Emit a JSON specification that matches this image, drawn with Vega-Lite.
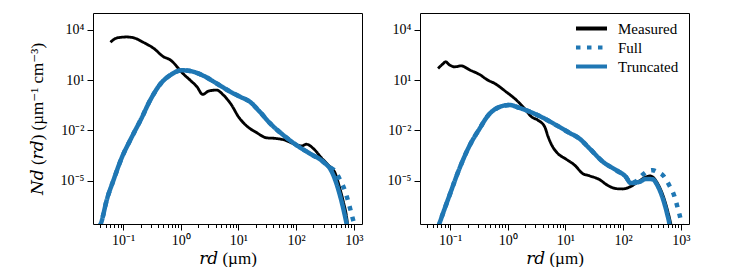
{
  "$schema": "https://vega.github.io/schema/vega-lite/v6.json",
  "padding": {"left": 27, "top": 12, "right": 5, "bottom": 0},
  "spacing": 22,
  "datasets": {
    "pts": [
      {"panel": "left", "series": "Measured", "r": 0.0603, "N": 1778},
      {"panel": "left", "series": "Measured", "r": 0.0708, "N": 2818},
      {"panel": "left", "series": "Measured", "r": 0.0832, "N": 3388},
      {"panel": "left", "series": "Measured", "r": 0.115, "N": 3715},
      {"panel": "left", "series": "Measured", "r": 0.162, "N": 3090},
      {"panel": "left", "series": "Measured", "r": 0.224, "N": 1778},
      {"panel": "left", "series": "Measured", "r": 0.339, "N": 776},
      {"panel": "left", "series": "Measured", "r": 0.501, "N": 245},
      {"panel": "left", "series": "Measured", "r": 0.661, "N": 158},
      {"panel": "left", "series": "Measured", "r": 0.912, "N": 49.0},
      {"panel": "left", "series": "Measured", "r": 1.047, "N": 28.2},
      {"panel": "left", "series": "Measured", "r": 1.445, "N": 10},
      {"panel": "left", "series": "Measured", "r": 1.905, "N": 3.98},
      {"panel": "left", "series": "Measured", "r": 2.399, "N": 1.38},
      {"panel": "left", "series": "Measured", "r": 3.02, "N": 2.188},
      {"panel": "left", "series": "Measured", "r": 4.169, "N": 2.512},
      {"panel": "left", "series": "Measured", "r": 5.495, "N": 1.259},
      {"panel": "left", "series": "Measured", "r": 7.586, "N": 0.324},
      {"panel": "left", "series": "Measured", "r": 10, "N": 0.0646},
      {"panel": "left", "series": "Measured", "r": 13.8, "N": 0.0186},
      {"panel": "left", "series": "Measured", "r": 20.9, "N": 0.00708},
      {"panel": "left", "series": "Measured", "r": 30.9, "N": 0.00355},
      {"panel": "left", "series": "Measured", "r": 45.7, "N": 0.00324},
      {"panel": "left", "series": "Measured", "r": 64.6, "N": 0.00257},
      {"panel": "left", "series": "Measured", "r": 89.1, "N": 0.00162},
      {"panel": "left", "series": "Measured", "r": 126, "N": 0.00117},
      {"panel": "left", "series": "Measured", "r": 151, "N": 0.00148},
      {"panel": "left", "series": "Measured", "r": 200, "N": 0.000813},
      {"panel": "left", "series": "Measured", "r": 275, "N": 0.000229},
      {"panel": "left", "series": "Measured", "r": 363, "N": 8.32e-5},
      {"panel": "left", "series": "Measured", "r": 479, "N": 2.63e-5},
      {"panel": "left", "series": "Measured", "r": 575, "N": 3.31e-6},
      {"panel": "left", "series": "Measured", "r": 661, "N": 5.37e-7},
      {"panel": "left", "series": "Measured", "r": 759, "N": 5.37e-8},
      {"panel": "left", "series": "Measured", "r": 794, "N": 1.58e-8},

      {"panel": "left", "series": "Truncated", "r": 0.0389, "N": 1.58e-8},
      {"panel": "left", "series": "Truncated", "r": 0.0417, "N": 3.16e-8},
      {"panel": "left", "series": "Truncated", "r": 0.0525, "N": 7.94e-7},
      {"panel": "left", "series": "Truncated", "r": 0.0676, "N": 1e-5},
      {"panel": "left", "series": "Truncated", "r": 0.0955, "N": 2.51e-4},
      {"panel": "left", "series": "Truncated", "r": 0.132, "N": 2.51e-3},
      {"panel": "left", "series": "Truncated", "r": 0.162, "N": 0.01},
      {"panel": "left", "series": "Truncated", "r": 0.2, "N": 0.0398},
      {"panel": "left", "series": "Truncated", "r": 0.295, "N": 0.631},
      {"panel": "left", "series": "Truncated", "r": 0.437, "N": 5.5},
      {"panel": "left", "series": "Truncated", "r": 0.661, "N": 19.95},
      {"panel": "left", "series": "Truncated", "r": 1.047, "N": 38.0},
      {"panel": "left", "series": "Truncated", "r": 1.445, "N": 34.7},
      {"panel": "left", "series": "Truncated", "r": 2.455, "N": 18.2},
      {"panel": "left", "series": "Truncated", "r": 4.169, "N": 6.31},
      {"panel": "left", "series": "Truncated", "r": 7.244, "N": 1.995},
      {"panel": "left", "series": "Truncated", "r": 10.7, "N": 1},
      {"panel": "left", "series": "Truncated", "r": 15.85, "N": 0.501},
      {"panel": "left", "series": "Truncated", "r": 23.4, "N": 0.129},
      {"panel": "left", "series": "Truncated", "r": 35.5, "N": 0.0257},
      {"panel": "left", "series": "Truncated", "r": 60.3, "N": 0.00513},
      {"panel": "left", "series": "Truncated", "r": 102, "N": 0.00129},
      {"panel": "left", "series": "Truncated", "r": 174, "N": 0.000407},
      {"panel": "left", "series": "Truncated", "r": 295, "N": 0.000132},
      {"panel": "left", "series": "Truncated", "r": 417, "N": 3.31e-5},
      {"panel": "left", "series": "Truncated", "r": 501, "N": 6.61e-6},
      {"panel": "left", "series": "Truncated", "r": 617, "N": 5.37e-7},
      {"panel": "left", "series": "Truncated", "r": 741, "N": 3.39e-8},
      {"panel": "left", "series": "Truncated", "r": 776, "N": 1.58e-8},

      {"panel": "left", "series": "Full", "r": 0.0389, "N": 1.58e-8},
      {"panel": "left", "series": "Full", "r": 0.0417, "N": 3.16e-8},
      {"panel": "left", "series": "Full", "r": 0.0525, "N": 7.94e-7},
      {"panel": "left", "series": "Full", "r": 0.0676, "N": 1e-5},
      {"panel": "left", "series": "Full", "r": 0.0955, "N": 2.51e-4},
      {"panel": "left", "series": "Full", "r": 0.132, "N": 2.51e-3},
      {"panel": "left", "series": "Full", "r": 0.162, "N": 0.01},
      {"panel": "left", "series": "Full", "r": 0.2, "N": 0.0398},
      {"panel": "left", "series": "Full", "r": 0.295, "N": 0.631},
      {"panel": "left", "series": "Full", "r": 0.437, "N": 5.5},
      {"panel": "left", "series": "Full", "r": 0.661, "N": 19.95},
      {"panel": "left", "series": "Full", "r": 1.047, "N": 38.0},
      {"panel": "left", "series": "Full", "r": 1.445, "N": 34.7},
      {"panel": "left", "series": "Full", "r": 2.455, "N": 18.2},
      {"panel": "left", "series": "Full", "r": 4.169, "N": 6.31},
      {"panel": "left", "series": "Full", "r": 7.244, "N": 1.995},
      {"panel": "left", "series": "Full", "r": 10.7, "N": 1},
      {"panel": "left", "series": "Full", "r": 15.85, "N": 0.501},
      {"panel": "left", "series": "Full", "r": 23.4, "N": 0.129},
      {"panel": "left", "series": "Full", "r": 35.5, "N": 0.0257},
      {"panel": "left", "series": "Full", "r": 60.3, "N": 0.00513},
      {"panel": "left", "series": "Full", "r": 102, "N": 0.00129},
      {"panel": "left", "series": "Full", "r": 174, "N": 0.000407},
      {"panel": "left", "series": "Full", "r": 295, "N": 0.000132},
      {"panel": "left", "series": "Full", "r": 363, "N": 7.08e-5},
      {"panel": "left", "series": "Full", "r": 457, "N": 4.17e-5},
      {"panel": "left", "series": "Full", "r": 575, "N": 1.15e-5},
      {"panel": "left", "series": "Full", "r": 708, "N": 2.34e-6},
      {"panel": "left", "series": "Full", "r": 813, "N": 4.79e-7},
      {"panel": "left", "series": "Full", "r": 912, "N": 1.07e-7},
      {"panel": "left", "series": "Full", "r": 1000, "N": 3.16e-8},
      {"panel": "left", "series": "Full", "r": 1047, "N": 1.58e-8},

      {"panel": "right", "series": "Measured", "r": 0.0617, "N": 49.0},
      {"panel": "right", "series": "Measured", "r": 0.0741, "N": 89.1},
      {"panel": "right", "series": "Measured", "r": 0.0832, "N": 123},
      {"panel": "right", "series": "Measured", "r": 0.0977, "N": 79.4},
      {"panel": "right", "series": "Measured", "r": 0.120, "N": 61.7},
      {"panel": "right", "series": "Measured", "r": 0.155, "N": 70.8},
      {"panel": "right", "series": "Measured", "r": 0.219, "N": 39.8},
      {"panel": "right", "series": "Measured", "r": 0.324, "N": 21.4},
      {"panel": "right", "series": "Measured", "r": 0.447, "N": 10},
      {"panel": "right", "series": "Measured", "r": 0.589, "N": 6.31},
      {"panel": "right", "series": "Measured", "r": 0.933, "N": 1.995},
      {"panel": "right", "series": "Measured", "r": 1.413, "N": 0.631},
      {"panel": "right", "series": "Measured", "r": 1.95, "N": 0.1995},
      {"panel": "right", "series": "Measured", "r": 2.57, "N": 0.0646},
      {"panel": "right", "series": "Measured", "r": 3.311, "N": 0.0407},
      {"panel": "right", "series": "Measured", "r": 4.365, "N": 0.0162},
      {"panel": "right", "series": "Measured", "r": 5.012, "N": 0.00407},
      {"panel": "right", "series": "Measured", "r": 6.026, "N": 0.00102},
      {"panel": "right", "series": "Measured", "r": 7.413, "N": 0.000407},
      {"panel": "right", "series": "Measured", "r": 10.23, "N": 0.000191},
      {"panel": "right", "series": "Measured", "r": 14.45, "N": 8.32e-5},
      {"panel": "right", "series": "Measured", "r": 19.95, "N": 2.63e-5},
      {"panel": "right", "series": "Measured", "r": 26.3, "N": 1.91e-5},
      {"panel": "right", "series": "Measured", "r": 38.9, "N": 1.15e-5},
      {"panel": "right", "series": "Measured", "r": 53.7, "N": 5.25e-6},
      {"panel": "right", "series": "Measured", "r": 75.9, "N": 3.31e-6},
      {"panel": "right", "series": "Measured", "r": 97.7, "N": 3.16e-6},
      {"panel": "right", "series": "Measured", "r": 138, "N": 4.57e-6},
      {"panel": "right", "series": "Measured", "r": 191, "N": 9.55e-6},
      {"panel": "right", "series": "Measured", "r": 251, "N": 1.66e-5},
      {"panel": "right", "series": "Measured", "r": 288, "N": 1.91e-5},
      {"panel": "right", "series": "Measured", "r": 331, "N": 1.58e-5},
      {"panel": "right", "series": "Measured", "r": 398, "N": 6.61e-6},
      {"panel": "right", "series": "Measured", "r": 490, "N": 1.35e-6},
      {"panel": "right", "series": "Measured", "r": 589, "N": 1.7e-7},
      {"panel": "right", "series": "Measured", "r": 661, "N": 3.39e-8},
      {"panel": "right", "series": "Measured", "r": 692, "N": 1.58e-8},

      {"panel": "right", "series": "Truncated", "r": 0.0617, "N": 1.58e-8},
      {"panel": "right", "series": "Truncated", "r": 0.0661, "N": 3.16e-8},
      {"panel": "right", "series": "Truncated", "r": 0.0977, "N": 1.35e-6},
      {"panel": "right", "series": "Truncated", "r": 0.145, "N": 5.25e-5},
      {"panel": "right", "series": "Truncated", "r": 0.219, "N": 0.00129},
      {"panel": "right", "series": "Truncated", "r": 0.324, "N": 0.0126},
      {"panel": "right", "series": "Truncated", "r": 0.447, "N": 0.0708},
      {"panel": "right", "series": "Truncated", "r": 0.724, "N": 0.251},
      {"panel": "right", "series": "Truncated", "r": 1.072, "N": 0.324},
      {"panel": "right", "series": "Truncated", "r": 1.585, "N": 0.219},
      {"panel": "right", "series": "Truncated", "r": 2.399, "N": 0.129},
      {"panel": "right", "series": "Truncated", "r": 4.074, "N": 0.0562},
      {"panel": "right", "series": "Truncated", "r": 6.918, "N": 0.0204},
      {"panel": "right", "series": "Truncated", "r": 11.75, "N": 0.00708},
      {"panel": "right", "series": "Truncated", "r": 17.4, "N": 0.00324},
      {"panel": "right", "series": "Truncated", "r": 26.3, "N": 0.000813},
      {"panel": "right", "series": "Truncated", "r": 44.7, "N": 0.000132},
      {"panel": "right", "series": "Truncated", "r": 75.9, "N": 4.17e-5},
      {"panel": "right", "series": "Truncated", "r": 112, "N": 1.66e-5},
      {"panel": "right", "series": "Truncated", "r": 135, "N": 7.08e-6},
      {"panel": "right", "series": "Truncated", "r": 191, "N": 8.32e-6},
      {"panel": "right", "series": "Truncated", "r": 251, "N": 1.26e-5},
      {"panel": "right", "series": "Truncated", "r": 324, "N": 1.2e-5},
      {"panel": "right", "series": "Truncated", "r": 398, "N": 4.79e-6},
      {"panel": "right", "series": "Truncated", "r": 490, "N": 8.32e-7},
      {"panel": "right", "series": "Truncated", "r": 589, "N": 8.51e-8},
      {"panel": "right", "series": "Truncated", "r": 631, "N": 2.95e-8},
      {"panel": "right", "series": "Truncated", "r": 646, "N": 1.58e-8},

      {"panel": "right", "series": "Full", "r": 0.0617, "N": 1.58e-8},
      {"panel": "right", "series": "Full", "r": 0.0661, "N": 3.16e-8},
      {"panel": "right", "series": "Full", "r": 0.0977, "N": 1.35e-6},
      {"panel": "right", "series": "Full", "r": 0.145, "N": 5.25e-5},
      {"panel": "right", "series": "Full", "r": 0.219, "N": 0.00129},
      {"panel": "right", "series": "Full", "r": 0.324, "N": 0.0126},
      {"panel": "right", "series": "Full", "r": 0.447, "N": 0.0708},
      {"panel": "right", "series": "Full", "r": 0.724, "N": 0.251},
      {"panel": "right", "series": "Full", "r": 1.072, "N": 0.324},
      {"panel": "right", "series": "Full", "r": 1.585, "N": 0.219},
      {"panel": "right", "series": "Full", "r": 2.399, "N": 0.129},
      {"panel": "right", "series": "Full", "r": 4.074, "N": 0.0562},
      {"panel": "right", "series": "Full", "r": 6.918, "N": 0.0204},
      {"panel": "right", "series": "Full", "r": 11.75, "N": 0.00708},
      {"panel": "right", "series": "Full", "r": 17.4, "N": 0.00324},
      {"panel": "right", "series": "Full", "r": 26.3, "N": 0.000813},
      {"panel": "right", "series": "Full", "r": 44.7, "N": 0.000132},
      {"panel": "right", "series": "Full", "r": 75.9, "N": 4.17e-5},
      {"panel": "right", "series": "Full", "r": 112, "N": 1.66e-5},
      {"panel": "right", "series": "Full", "r": 135, "N": 7.08e-6},
      {"panel": "right", "series": "Full", "r": 166, "N": 8.91e-6},
      {"panel": "right", "series": "Full", "r": 214, "N": 2.09e-5},
      {"panel": "right", "series": "Full", "r": 263, "N": 3.55e-5},
      {"panel": "right", "series": "Full", "r": 324, "N": 4.17e-5},
      {"panel": "right", "series": "Full", "r": 398, "N": 3.16e-5},
      {"panel": "right", "series": "Full", "r": 501, "N": 1.91e-5},
      {"panel": "right", "series": "Full", "r": 631, "N": 5.25e-6},
      {"panel": "right", "series": "Full", "r": 776, "N": 1.17e-6},
      {"panel": "right", "series": "Full", "r": 891, "N": 2.14e-7},
      {"panel": "right", "series": "Full", "r": 1000, "N": 4.27e-8},
      {"panel": "right", "series": "Full", "r": 1047, "N": 1.58e-8}
    ]
  },
  "data": {"name": "pts"},
  "config": {
    "font": "Liberation Serif",
    "view": {"stroke": "black", "strokeWidth": 1},
    "axis": {
      "domain": false, "grid": false, "tickColor": "black", "tickWidth": 1,
      "labelColor": "black", "titleColor": "black",
      "labelFont": "Liberation Serif", "titleFont": "Liberation Serif, DejaVu Serif, serif",
      "labelFontSize": 14, "titleFontSize": 17, "titleFontWeight": "normal",
      "labelOverlap": false, "labelFlush": false, "labelPadding": 3
    },
    "legend": {
      "labelFont": "Liberation Serif", "labelFontSize": 15, "labelColor": "black",
      "symbolType": "M-3,0H3", "symbolSize": 107, "symbolStrokeWidth": 4,
      "rowPadding": 2, "labelOffset": 19, "padding": 0
    }
  },
  "resolve": {"legend": {"color": "independent", "strokeDash": "independent"}},
  "hconcat": [
    {
      "width": 269, "height": 211,
      "transform": [{"filter": "datum.panel == 'left'"}],
      "encoding": {
        "x": {"field": "r", "type": "quantitative",
          "scale": {"type": "log", "domain": [0.03, 1390], "nice": false},
          "axis": {"title": "𝑟𝑑 (µm)", "titlePadding": 3,
            "values": [0.04,0.05,0.06,0.07,0.08,0.09,0.1,0.2,0.3,0.4,0.5,0.6,0.7,0.8,0.9,1,2,3,4,5,6,7,8,9,10,20,30,40,50,60,70,80,90,100,200,300,400,500,600,700,800,900,1000],
            "tickSize": {"condition": {"test": "indexof([0.1,1,10,100,1000], datum.value) >= 0", "value": 6}, "value": 3.5},
            "labelExpr": "datum.value == 0.1 ? '10⁻¹' : datum.value == 1 ? '10⁰' : datum.value == 10 ? '10¹' : datum.value == 100 ? '10²' : datum.value == 1000 ? '10³' : ''"}},
        "y": {"field": "N", "type": "quantitative",
          "scale": {"type": "log", "domain": [2.57e-8, 100000], "nice": false},
          "axis": {"title": "𝑁𝑑 (𝑟𝑑) (µm⁻¹ cm⁻³)", "titlePadding": 14, "tickSize": 6,
            "values": [0.00001, 0.01, 10, 10000],
            "labelExpr": "datum.value == 10000 ? '10⁴' : datum.value == 10 ? '10¹' : datum.value == 0.01 ? '10⁻²' : '10⁻⁵'"}},
        "color": {"field": "series", "type": "nominal",
          "scale": {"domain": ["Measured", "Full", "Truncated"], "range": ["#000000", "#1f77b4", "#1f77b4"]},
          "legend": null},
        "strokeDash": {"field": "series", "type": "nominal",
          "scale": {"domain": ["Measured", "Full", "Truncated"], "range": [[1, 0], [4.5, 6.5], [1, 0]]},
          "legend": null}
      },
      "layer": [
        {"transform": [{"filter": "datum.series == 'Measured'"}],
         "mark": {"type": "line", "clip": true, "strokeWidth": 2.8, "interpolate": "monotone"}},
        {"transform": [{"filter": "datum.series == 'Full'"}],
         "mark": {"type": "line", "clip": true, "strokeWidth": 4.5, "interpolate": "monotone"}},
        {"transform": [{"filter": "datum.series == 'Truncated'"}],
         "mark": {"type": "line", "clip": true, "strokeWidth": 4.5, "interpolate": "monotone"}}
      ]
    },
    {
      "width": 269, "height": 211,
      "transform": [{"filter": "datum.panel == 'right'"}],
      "encoding": {
        "x": {"field": "r", "type": "quantitative",
          "scale": {"type": "log", "domain": [0.03, 1390], "nice": false},
          "axis": {"title": "𝑟𝑑 (µm)", "titlePadding": 3,
            "values": [0.04,0.05,0.06,0.07,0.08,0.09,0.1,0.2,0.3,0.4,0.5,0.6,0.7,0.8,0.9,1,2,3,4,5,6,7,8,9,10,20,30,40,50,60,70,80,90,100,200,300,400,500,600,700,800,900,1000],
            "tickSize": {"condition": {"test": "indexof([0.1,1,10,100,1000], datum.value) >= 0", "value": 6}, "value": 3.5},
            "labelExpr": "datum.value == 0.1 ? '10⁻¹' : datum.value == 1 ? '10⁰' : datum.value == 10 ? '10¹' : datum.value == 100 ? '10²' : datum.value == 1000 ? '10³' : ''"}},
        "y": {"field": "N", "type": "quantitative",
          "scale": {"type": "log", "domain": [2.57e-8, 100000], "nice": false},
          "axis": {"title": null, "tickSize": 6,
            "values": [0.00001, 0.01, 10, 10000],
            "labelExpr": "datum.value == 10000 ? '10⁴' : datum.value == 10 ? '10¹' : datum.value == 0.01 ? '10⁻²' : '10⁻⁵'"}},
        "color": {"field": "series", "type": "nominal",
          "scale": {"domain": ["Measured", "Full", "Truncated"], "range": ["#000000", "#1f77b4", "#1f77b4"]},
          "legend": {"title": null, "orient": "none", "legendX": 164, "legendY": 8}},
        "strokeDash": {"field": "series", "type": "nominal",
          "scale": {"domain": ["Measured", "Full", "Truncated"], "range": [[1, 0], [4.5, 6.5], [1, 0]]},
          "legend": {"title": null, "orient": "none", "legendX": 164, "legendY": 8}}
      },
      "layer": [
        {"transform": [{"filter": "datum.series == 'Measured'"}],
         "mark": {"type": "line", "clip": true, "strokeWidth": 2.8, "interpolate": "monotone"}},
        {"transform": [{"filter": "datum.series == 'Full'"}],
         "mark": {"type": "line", "clip": true, "strokeWidth": 4.5, "interpolate": "monotone"}},
        {"transform": [{"filter": "datum.series == 'Truncated'"}],
         "mark": {"type": "line", "clip": true, "strokeWidth": 4.5, "interpolate": "monotone"}}
      ]
    }
  ]
}
